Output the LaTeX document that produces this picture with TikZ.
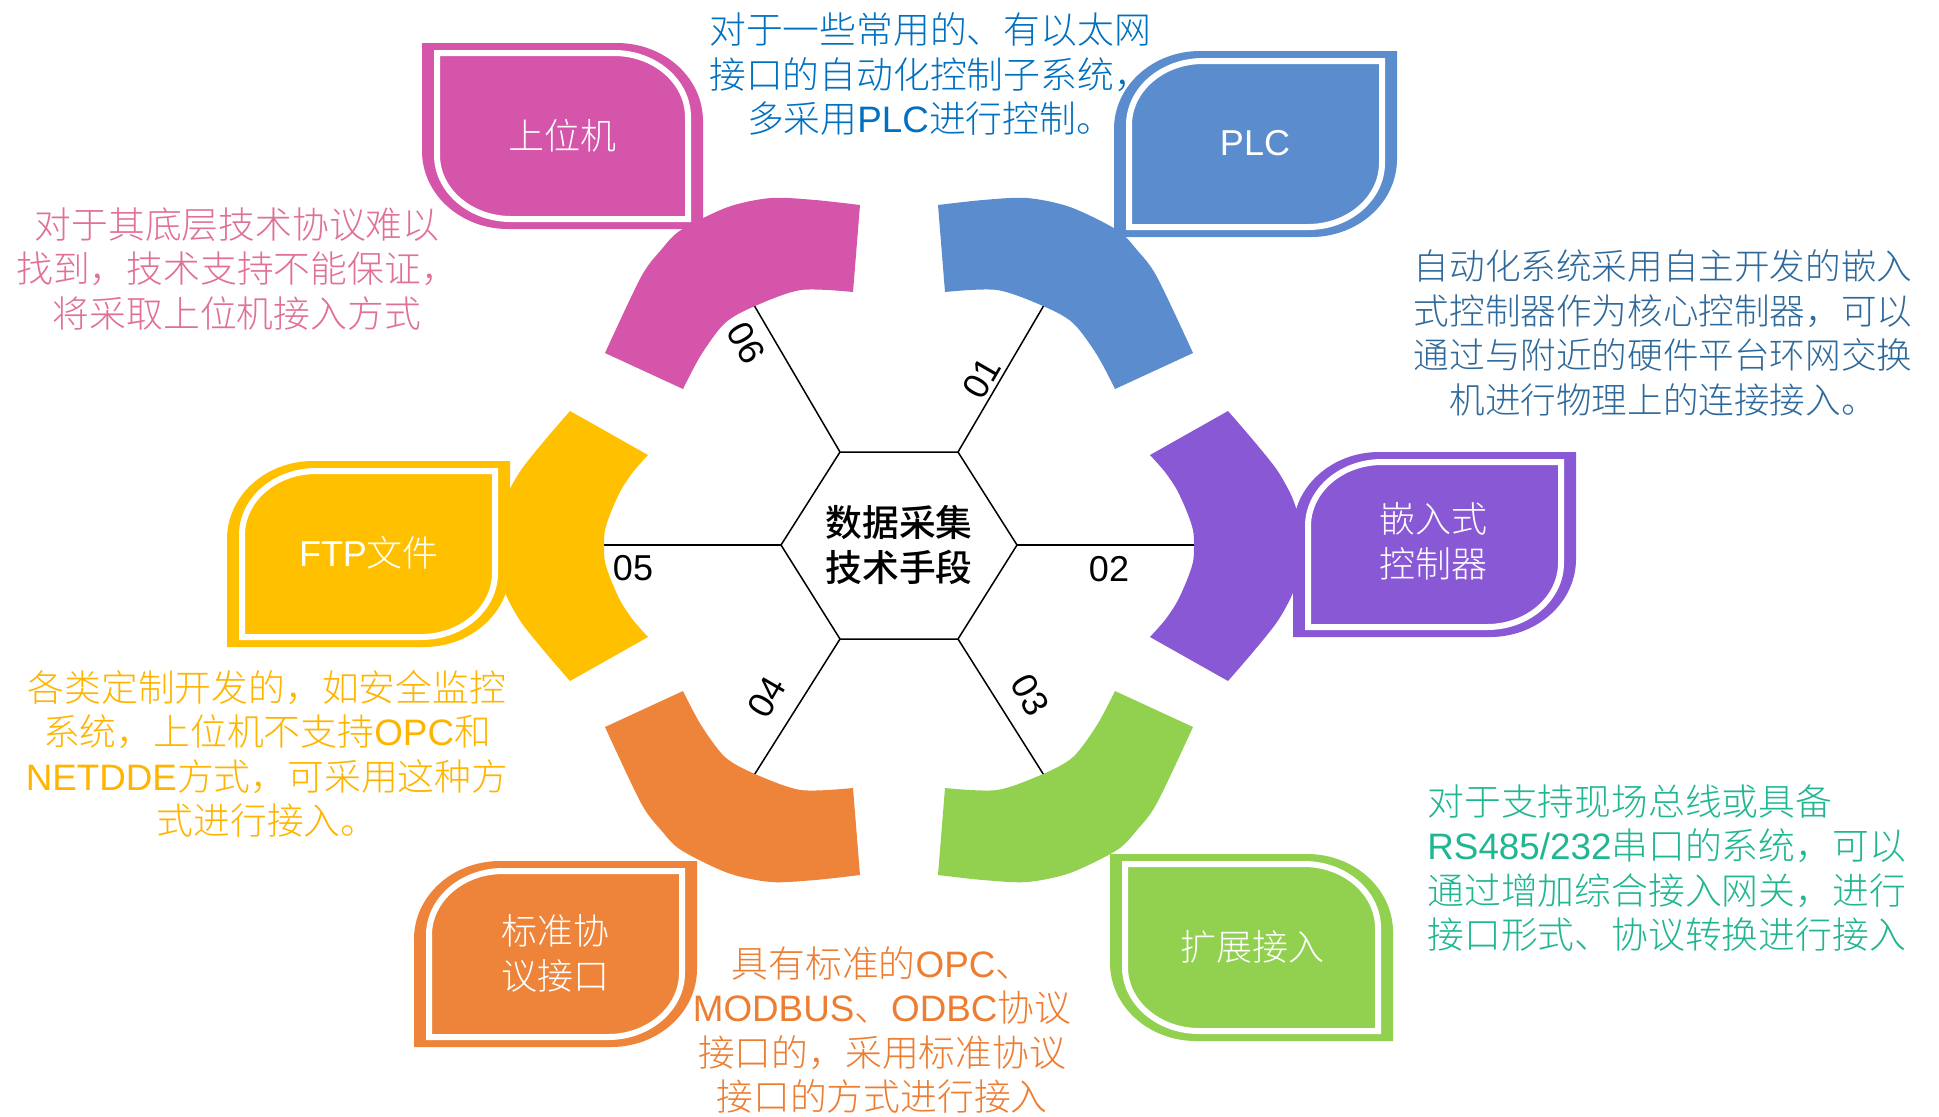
\documentclass[tikz,border=0pt]{standalone}
\usepackage{fontspec}
\setmainfont{Liberation Sans}
\IfFontExistsTF{Noto Sans CJK SC Light}{\newfontfamily\cjk{Noto Sans CJK SC Light}}{\IfFontExistsTF{Noto Sans CJK SC DemiLight}{\newfontfamily\cjk{Noto Sans CJK SC DemiLight}}{\newfontfamily\cjk{Noto Sans CJK SC}}}
\IfFontExistsTF{Noto Sans CJK SC Medium}{\newfontfamily\cjkhub{Noto Sans CJK SC Medium}}{\newfontfamily\cjkhub{Noto Sans CJK SC}}
\newfontfamily\lat{Liberation Sans}
\definecolor{cPink}{RGB}{212,85,169}
\definecolor{cBlue}{RGB}{91,141,206}
\definecolor{cPurple}{RGB}{137,88,213}
\definecolor{cGreen}{RGB}{146,208,80}
\definecolor{cOrange}{RGB}{237,132,58}
\definecolor{cGold}{RGB}{255,192,0}
\definecolor{tPink}{RGB}{224,112,150}
\definecolor{tBlue}{RGB}{0,112,192}
\definecolor{tSteel}{RGB}{46,105,155}
\definecolor{tTeal}{RGB}{32,182,146}
\definecolor{tGold}{RGB}{255,180,0}
\definecolor{tOrange}{RGB}{237,125,49}
% box with top-left and bottom-right rounded: L T R B rx ry style
\newcommand\pathA[7]{\path[#7] ({#1},{#4}) -- ({#1},{#2+#6}) .. controls ({#1},{#2+0.448*#6}) and ({#1+0.448*#5},{#2}) .. ({#1+#5},{#2}) -- ({#3},{#2}) -- ({#3},{#4-#6}) .. controls ({#3},{#4-0.448*#6}) and ({#3-0.448*#5},{#4}) .. ({#3-#5},{#4}) -- cycle;}
% box with top-right and bottom-left rounded
\newcommand\pathB[7]{\path[#7] ({#1},{#2}) -- ({#3-#5},{#2}) .. controls ({#3-0.448*#5},{#2}) and ({#3},{#2+0.448*#6}) .. ({#3},{#2+#6}) -- ({#3},{#4}) -- ({#1+#5},{#4}) .. controls ({#1+0.448*#5},{#4}) and ({#1},{#4-0.448*#6}) .. ({#1},{#4-#6}) -- cycle;}
\newcommand\boxA[5]{\pathA{#1}{#2}{#3}{#4}{86}{78}{fill=#5}\pathA{#1+15}{#2+10}{#3-15}{#4-10}{74}{64}{draw=white,line width=3pt}}
\newcommand\boxB[5]{\pathB{#1}{#2}{#3}{#4}{86}{78}{fill=#5}\pathB{#1+15}{#2+10}{#3-15}{#4-10}{74}{64}{draw=white,line width=3pt}}
\newcommand\bandone[1]{\fill[#1] plot[smooth] coordinates {(938,205) (983,200) (1027,198) (1070,207) (1117,230) (1137,250) (1157,277) (1193,353)} -- plot[smooth] coordinates {(1115,389) (1097,355) (1073,323) (1043,306) (997,290) (945,292)} -- cycle;}
\newcommand\bandtwo[1]{\fill[#1] plot[smooth] coordinates {(1228,411) (1253,440) (1277,470) (1292,497) (1299,520) (1301,546) (1299,572) (1292,595) (1277,622) (1253,652) (1228,681)} -- plot[smooth] coordinates {(1150,637) (1165,620) (1177,602) (1187,580) (1193,562) (1194,546) (1193,530) (1187,512) (1177,490) (1165,472) (1150,455)} -- cycle;}
\begin{document}
\begin{tikzpicture}[x=0.5pt,y=-0.5pt,
  desc/.style={font=\cjk\fontsize{18.4}{22.2}\selectfont, align=center, inner sep=0pt},
  lbl/.style={text=white, font=\cjk\fontsize{18}{22.5}\selectfont, align=center, inner sep=0pt},
  num/.style={font=\lat\fontsize{18}{18}\selectfont, inner sep=0pt},
  spoke/.style={line width=0.75pt, draw=black}]
\useasboundingbox (0,0) rectangle (1939,1116);
\fill[white] (0,0) rectangle (1939,1116);
% hexagon vertices and spoke ends
\coordinate (hL) at (781,545);
\coordinate (hUL) at (840,452);
\coordinate (hUR) at (958,452);
\coordinate (hR) at (1017,545);
\coordinate (hLR) at (958,639);
\coordinate (hLL) at (840,639);
\coordinate (e01) at (1047,300);
\coordinate (e06) at (751,300);
\coordinate (e02) at (1200,545);
\coordinate (e05) at (598,545);
\coordinate (e03) at (1047,780);
\coordinate (e04) at (751,780);
\draw[spoke] (hL)--(hUL)--(hUR)--(hR)--(hLR)--(hLL)--cycle;
\draw[spoke] (hUR)--(e01);
\draw[spoke] (hUL)--(e06);
\draw[spoke] (hR)--(e02);
\draw[spoke] (hL)--(e05);
\draw[spoke] (hLR)--(e03);
\draw[spoke] (hLL)--(e04);
% bands
\bandone{cBlue}
\begin{scope}[shift={(899,0)},xscale=-1,shift={(-899,0)}]
\bandone{cPink}
\bandtwo{cGold}
\end{scope}
\begin{scope}[shift={(0,540)},yscale=-1,shift={(0,-540)}]
\bandone{cGreen}
\end{scope}
\begin{scope}[shift={(899,540)},scale=-1,shift={(-899,-540)}]
\bandone{cOrange}
\end{scope}
\bandtwo{cPurple}
% boxes
\boxB{422}{43}{703}{229}{cPink}
\boxA{1114}{51}{1397}{237}{cBlue}
\boxA{1293}{452}{1576}{637}{cPurple}
\boxA{227}{461}{510}{647}{cGold}
\boxA{414}{861}{697}{1047}{cOrange}
\boxB{1110}{854}{1393}{1041}{cGreen}
% box labels
\node[lbl] (l06) at (562,136) {上位机};
\node[lbl] (l01) at (1255,143) {\lat PLC};
\node[lbl] (l02) at (1433,541) {嵌入式\\控制器};
\node[lbl] (l05) at (369,553) {{\lat FTP}文件};
\node[lbl] (l04) at (555,953) {标准协\\议接口};
\node[lbl] (l03) at (1252,947) {扩展接入};
% hub
\node[font=\cjkhub\fontsize{18.4}{22.5}\selectfont, align=center, inner sep=0pt] (hub) at (899,545) {数据采集\\技术手段};
% numbers
\node[num, rotate=60] (n01) at (982,378) {01};
\node[num] (n02) at (1109,569) {02};
\node[num, rotate=-60] (n03) at (1030,695) {03};
\node[num, rotate=60] (n04) at (767,697) {04};
\node[num] (n05) at (633,568) {05};
\node[num, rotate=-60] (n06) at (746,343) {06};
% descriptions
\node[desc, text=tBlue] (tPLC) at (930,74) {对于一些常用的、有以太网\\接口的自动化控制子系统，\\多采用{\lat PLC}进行控制。};
\node[desc, text=tPink] (tPC) at (237,269) {对于其底层技术协议难以\\找到，技术支持不能保证，\\将采取上位机接入方式};
\node[desc, text=tSteel, font=\cjk\fontsize{17.8}{22.2}\selectfont] (tEmb) at (1663,333) {自动化系统采用自主开发的嵌入\\式控制器作为核心控制器，可以\\通过与附近的硬件平台环网交换\\机进行物理上的连接接入。};
\node[desc, text=tTeal, align=left, anchor=west] (tExt) at (1427,868) {对于支持现场总线或具备\\{\lat RS485/232}串口的系统，可以\\通过增加综合接入网关，进行\\接口形式、协议转换进行接入};
\node[desc, text=tGold] (tFTP) at (267,754) {各类定制开发的，如安全监控\\系统，上位机不支持{\lat OPC}和\\{\lat NETDDE}方式，可采用这种方\\式进行接入。};
\node[desc, text=tOrange] (tStd) at (882,1030) {具有标准的{\lat OPC}、\\{\lat MODBUS}、{\lat ODBC}协议\\接口的，采用标准协议\\接口的方式进行接入};
\end{tikzpicture}
\end{document}
